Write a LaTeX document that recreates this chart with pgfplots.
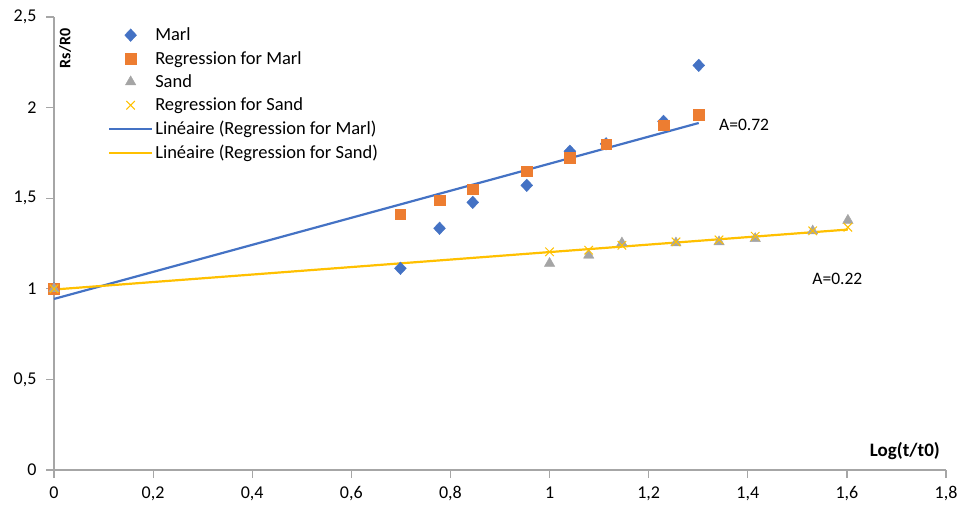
\documentclass[border=0pt]{standalone}
\usepackage{pgfplots}
\pgfplotsset{compat=1.18}
\usepackage{fontspec}
\setmainfont{Carlito}
\definecolor{xlblue}{HTML}{4472C4}
\definecolor{xlorange}{HTML}{ED7D31}
\definecolor{xlgray}{HTML}{A5A5A5}
\definecolor{xlyellow}{HTML}{FFC000}
\definecolor{axgray}{HTML}{A6A6A6}
\begin{document}
\begin{tikzpicture}
\path[use as bounding box] (-54pt,-38pt) rectangle (906pt,470pt);
\begin{axis}[
  scale only axis, width=892pt, height=453pt,
  xmin=0, xmax=1.8, ymin=0, ymax=2.5,
  axis x line*=bottom, axis y line*=left,
  axis line style={draw=axgray, line width=1.3pt},
  xtick={0,0.2,...,1.8}, ytick={0,0.5,...,2.5},
  tick style={draw=axgray, line width=1.2pt},
  tick align=outside, major tick length=8pt,
  /pgf/number format/use comma,
  /pgf/number format/assume math mode=true,
  xticklabel style={font=\fontsize{18}{20}\selectfont, yshift=-5pt},
  yticklabel style={font=\fontsize{18}{20}\selectfont, xshift=-6pt},
  legend cell align=left,
  legend style={draw=none, fill=none, at={(0.057,0.985)}, anchor=north west,
    font=\fontsize{18.5}{20}\selectfont, row sep=5pt, nodes={inner sep=2pt}},
  legend image code/.code={\draw[mark repeat=2,mark phase=2] plot coordinates {(0pt,0pt) (21.5pt,0pt) (43pt,0pt)};},
  clip=false,
]
\addplot[only marks, mark=diamond*, mark size=6.3pt, mark options={xscale=1.25, draw=xlblue, fill=xlblue}] coordinates {
(0,1) (0.699,1.113) (0.778,1.334) (0.845,1.477) (0.954,1.571) (1.041,1.759) (1.114,1.80) (1.230,1.924) (1.301,2.233)};
\addlegendentry{Marl}
\addplot[only marks, mark=square*, mark size=5.3pt, mark options={draw=xlorange, fill=xlorange}] coordinates {
(0,1) (0.699,1.411) (0.778,1.488) (0.845,1.549) (0.954,1.648) (1.041,1.725) (1.114,1.797) (1.230,1.902) (1.301,1.962)};
\addlegendentry{Regression for Marl}
\addplot[only marks, mark=triangle*, mark size=6pt, mark options={draw=xlgray, fill=xlgray}] coordinates {
(0,1) (1.0,1.14) (1.079,1.185) (1.146,1.253) (1.255,1.253) (1.342,1.259) (1.415,1.277) (1.531,1.319) (1.602,1.378)};
\addlegendentry{Sand}
\addplot[only marks, mark=x, mark size=6pt, mark options={draw=xlyellow, line width=1pt}] coordinates {
(0,1) (1.0,1.204) (1.079,1.213) (1.146,1.240) (1.255,1.259) (1.342,1.27) (1.415,1.29) (1.531,1.32) (1.602,1.34)};
\addlegendentry{Regression for Sand}
\addplot[xlblue, line width=2.2pt, mark=none] coordinates {(0,0.944) (1.301,1.915)};
\addlegendentry{Linéaire (Regression for Marl)}
\addplot[xlyellow, line width=2.2pt, mark=none] coordinates {(0,0.996) (1.602,1.327)};
\addlegendentry{Linéaire (Regression for Sand)}
\node[anchor=west, font=\fontsize{17.5}{19}\selectfont, inner sep=0pt] at (axis cs:1.342,1.902) {A=0.72};
\node[anchor=west, font=\fontsize{17.5}{19}\selectfont, inner sep=0pt] at (axis cs:1.530,1.053) {A=0.22};
\node[rotate=90, font=\bfseries\fontsize{16}{18}\selectfont, inner sep=0pt] at (axis cs:0.0222,2.326) {Rs/R0};
\node[font=\bfseries\fontsize{19}{21}\selectfont, inner sep=0pt] at (axis cs:1.717,0.105) {Log(t/t0)};
\end{axis}
\end{tikzpicture}
\end{document}
